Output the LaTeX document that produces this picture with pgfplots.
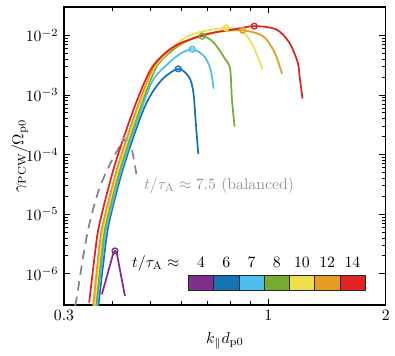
\documentclass[border=0pt]{standalone}
\usepackage{pgfplots}
\pgfplotsset{compat=1.18}
\definecolor{cPur}{HTML}{7E2F8E}
\definecolor{cBlu}{HTML}{1572B3}
\definecolor{cLbl}{HTML}{4DBEEE}
\definecolor{cGrn}{HTML}{77AC30}
\definecolor{cYel}{HTML}{EDE04C}
\definecolor{cOrg}{HTML}{E59C24}
\definecolor{cRed}{HTML}{E32222}
\definecolor{cGry}{HTML}{858585}

\begin{document}
\begin{tikzpicture}
\begin{axis}[
    width=204pt, height=189pt, scale only axis,
    xmode=log, ymode=log,
    xmin=0.3, xmax=2, ymin=3e-7, ymax=3e-2,
    xtick={0.3,1,2}, xticklabels={$0.3$,$1$,$2$},
    minor xtick={0.4,0.5,0.6,0.7,0.8,0.9},
    ytick={1e-6,1e-5,1e-4,1e-3,1e-2},
    tick align=inside,
    major tick length=4pt, minor tick length=2.5pt,
    axis line style={line width=0.8pt},
    every tick/.style={black, line width=0.6pt},
    xlabel={$k_\parallel d_{\rm p0}$},
    ylabel={$\gamma_{\rm PCW}/\Omega_{\rm p0}$},
    xlabel style={at={(axis description cs:0.5,-0.119)}, anchor=center},
    ylabel style={at={(axis description cs:-0.138,0.5)}, anchor=center},
    every axis plot/.append style={line width=1.1pt},
]
% balanced run, t/tau_A ~ 7.5
\addplot[cGry, dash pattern=on 6pt off 4pt, smooth] coordinates {
  (0.320,2.9e-7)(0.324,4.26e-7)(0.3337,1.51e-6)(0.347,6.14e-6)(0.3678,2.49e-5)
  (0.397,7.8e-5)(0.4296,1.78e-4)(0.4464,1.30e-4)(0.4596,4.69e-5)
};
\addplot[cGry!70, only marks, mark=o, mark size=1.6pt, mark options={line width=0.6pt}] coordinates {(0.4296,1.78e-4)};

% t = 4
\addplot[cPur] coordinates {
  (0.375,4.54e-7)(0.401,2.19e-6)(0.405,2.43e-6)(0.409,2.3e-6)(0.4296,4.26e-7)
};
\addplot[cPur, only marks, mark=o, mark size=1.8pt, mark options={line width=0.9pt}] coordinates {(0.405,2.43e-6)};

% t = 6
\addplot[cBlu, smooth] coordinates {
  (0.367,2.8e-7)(0.385,3.88e-6)(0.396,1.02e-5)(0.428,6.86e-5)(0.483,6.42e-4)
  (0.532,1.75e-3)(0.588,2.74e-3)(0.627,1.99e-3)(0.643,1.12e-3)(0.652,3.59e-4)(0.662,1.03e-4)
};
\addplot[cBlu, only marks, mark=o, mark size=1.8pt, mark options={line width=0.9pt}] coordinates {(0.588,2.74e-3)};

% t = 7
\addplot[cLbl, smooth] coordinates {
  (0.364,2.8e-7)(0.3814,3.88e-6)(0.393,1.02e-5)(0.4243,6.86e-5)(0.476,6.42e-4)
  (0.509,1.87e-3)(0.553,3.31e-3)(0.593,4.84e-3)(0.639,5.86e-3)(0.684,4.54e-3)
  (0.711,2.74e-3)(0.725,1.28e-3)
};
\addplot[cLbl, only marks, mark=o, mark size=1.8pt, mark options={line width=0.9pt}] coordinates {(0.639,5.86e-3)};

% t = 8
\addplot[cGrn, smooth] coordinates {
  (0.362,2.8e-7)(0.378,3.88e-6)(0.3895,1.02e-5)(0.4206,6.86e-5)(0.4715,6.42e-4)
  (0.514,2.74e-3)(0.553,4.84e-3)(0.610,7.66e-3)(0.677,9.7e-3)(0.725,7.57e-3)
  (0.776,4.0e-3)(0.799,2.74e-3)(0.807,8.7e-4)(0.820,2.97e-4)
};
\addplot[cGrn, only marks, mark=o, mark size=1.8pt, mark options={line width=0.9pt}] coordinates {(0.677,9.7e-3)};

% t = 10
\addplot[cYel, smooth] coordinates {
  (0.359,2.8e-7)(0.3747,3.88e-6)(0.386,1.02e-5)(0.417,6.86e-5)(0.467,6.42e-4)
  (0.509,2.74e-3)(0.553,5.2e-3)(0.603,8.59e-3)(0.658,1.11e-2)(0.780,1.34e-2)
  (0.864,1.11e-2)(0.915,6.65e-3)(0.966,2.74e-3)
};
\addplot[cYel, only marks, mark=o, mark size=1.8pt, mark options={line width=0.9pt}] coordinates {(0.780,1.34e-2)};

% t = 12
\addplot[cOrg, smooth] coordinates {
  (0.356,2.8e-7)(0.3715,3.88e-6)(0.3827,1.02e-5)(0.4133,6.86e-5)(0.463,6.42e-4)
  (0.506,2.74e-3)(0.553,5.3e-3)(0.658,9.63e-3)(0.761,1.165e-2)(0.860,1.22e-2)
  (0.970,9.7e-3)(1.038,5.17e-3)(1.085,2.26e-3)
};
\addplot[cOrg, only marks, mark=o, mark size=1.8pt, mark options={line width=0.9pt}] coordinates {(0.860,1.22e-2)};

% t = 14
\addplot[cRed, smooth] coordinates {
  (0.348,3.3e-7)(0.364,3.88e-6)(0.375,1.02e-5)(0.405,6.86e-5)(0.455,6.42e-4)
  (0.501,2.74e-3)(0.553,5.5e-3)(0.603,7.66e-3)(0.670,9.7e-3)(0.739,1.14e-2)
  (0.815,1.26e-2)(0.921,1.43e-2)(1.048,1.26e-2)(1.131,7.66e-3)(1.189,3.57e-3)
  (1.205,1.87e-3)(1.224,8.7e-4)
};
\addplot[cRed, only marks, mark=o, mark size=1.8pt, mark options={line width=0.9pt}] coordinates {(0.921,1.43e-2)};

% labels
\node[anchor=base west, text=black!42] at (axis description cs:0.232,0.388)
  {$t/\tau_{\rm A}\approx 7.5$ (balanced)};
\node[anchor=base east] at (axis description cs:0.376,0.126) {$t/\tau_{\rm A}\approx$};
\fill[cPur] (axis description cs:0.3865,0.0507) rectangle (axis description cs:0.4650,0.1003);
\fill[cBlu] (axis description cs:0.4650,0.0507) rectangle (axis description cs:0.5434,0.1003);
\fill[cLbl] (axis description cs:0.5434,0.0507) rectangle (axis description cs:0.6219,0.1003);
\fill[cGrn] (axis description cs:0.6219,0.0507) rectangle (axis description cs:0.7003,0.1003);
\fill[cYel] (axis description cs:0.7003,0.0507) rectangle (axis description cs:0.7788,0.1003);
\fill[cOrg] (axis description cs:0.7788,0.0507) rectangle (axis description cs:0.8572,0.1003);
\fill[cRed] (axis description cs:0.8572,0.0507) rectangle (axis description cs:0.9356,0.1003);
\draw[black!85, line width=0.5pt] (axis description cs:0.3865,0.0507) rectangle (axis description cs:0.9356,0.1003);
\draw[black!85, line width=0.4pt] (axis description cs:0.4650,0.0507) -- (axis description cs:0.4650,0.1003);
\draw[black!85, line width=0.4pt] (axis description cs:0.5434,0.0507) -- (axis description cs:0.5434,0.1003);
\draw[black!85, line width=0.4pt] (axis description cs:0.6219,0.0507) -- (axis description cs:0.6219,0.1003);
\draw[black!85, line width=0.4pt] (axis description cs:0.7003,0.0507) -- (axis description cs:0.7003,0.1003);
\draw[black!85, line width=0.4pt] (axis description cs:0.7788,0.0507) -- (axis description cs:0.7788,0.1003);
\draw[black!85, line width=0.4pt] (axis description cs:0.8572,0.0507) -- (axis description cs:0.8572,0.1003);
\node[anchor=base] at (axis description cs:0.4257,0.126) {$4$};
\node[anchor=base] at (axis description cs:0.5042,0.126) {$6$};
\node[anchor=base] at (axis description cs:0.5826,0.126) {$7$};
\node[anchor=base] at (axis description cs:0.6611,0.126) {$8$};
\node[anchor=base] at (axis description cs:0.7395,0.126) {$10$};
\node[anchor=base] at (axis description cs:0.8180,0.126) {$12$};
\node[anchor=base] at (axis description cs:0.8964,0.126) {$14$};
\end{axis}
\path ([shift={(-40.6pt,-32pt)}]current axis.south west) rectangle ([shift={(2.5pt,4.4pt)}]current axis.north east);
\end{tikzpicture}
\end{document}
